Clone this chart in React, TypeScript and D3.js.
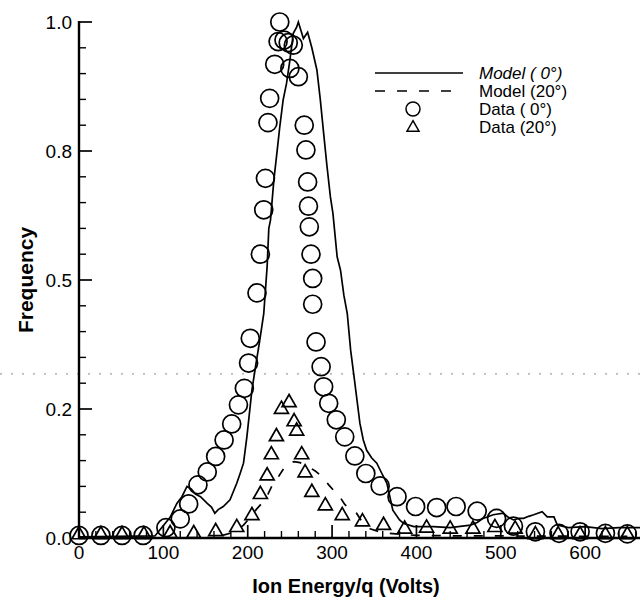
import React from "react";
import * as d3 from "d3";

// Data (0°) circles: [energy, frequency]
const data0X = [0, 26, 51, 76, 103, 120, 130, 141, 152, 162, 172, 181, 189, 196, 201, 203, 211, 215, 219, 221, 224, 226, 232, 236, 238, 243, 248, 254, 250, 260, 267, 269, 271, 272, 273, 275, 277, 277, 281, 287, 290, 296, 305, 315, 327, 340, 357, 377, 399, 424, 447, 472, 495, 515, 541, 569, 594, 624, 650];
const data0Y = [0.005, 0.005, 0.005, 0.005, 0.02, 0.037, 0.066, 0.103, 0.128, 0.158, 0.19, 0.221, 0.258, 0.29, 0.339, 0.387, 0.475, 0.55, 0.636, 0.697, 0.805, 0.852, 0.918, 0.962, 1.0, 0.965, 0.96, 0.955, 0.91, 0.894, 0.8, 0.752, 0.69, 0.643, 0.603, 0.55, 0.503, 0.453, 0.38, 0.332, 0.293, 0.261, 0.229, 0.196, 0.159, 0.125, 0.101, 0.08, 0.061, 0.059, 0.061, 0.052, 0.038, 0.023, 0.012, 0.009, 0.012, 0.009, 0.008];

// Data (20°) triangles
const data20X = [0, 26, 51, 77, 108, 136, 162, 187, 205, 215, 223, 228, 234, 240, 249, 255, 258, 264, 268, 276, 292, 312, 336, 361, 386, 412, 440, 467, 493, 517, 541, 568, 594, 624, 650];
const data20Y = [0.008, 0.008, 0.008, 0.008, 0.01, 0.01, 0.014, 0.022, 0.045, 0.086, 0.122, 0.163, 0.198, 0.251, 0.264, 0.227, 0.209, 0.163, 0.128, 0.09, 0.064, 0.045, 0.033, 0.026, 0.019, 0.021, 0.019, 0.019, 0.022, 0.019, 0.008, 0.008, 0.008, 0.008, 0.008];

// Model (0°) solid line
const model0X = [0, 90, 96, 108, 116, 122, 128, 133, 138, 144, 152, 157, 161, 165, 171, 179, 187, 191, 195, 199, 205, 210, 214, 219, 223, 225, 227, 231, 235, 238, 242, 246, 250, 254, 258, 260, 266, 271, 276, 282, 286, 290, 294, 298, 301, 306, 310, 314, 318, 322, 327, 333, 337, 341, 347, 353, 359, 365, 372, 380, 385, 397, 420, 440, 464, 472, 479, 491, 503, 509, 515, 521, 527, 533, 539, 549, 555, 563, 567, 580, 600, 620, 640, 665];
const model0Y = [0.002, 0.004, 0.016, 0.04, 0.067, 0.08, 0.1, 0.095, 0.085, 0.08, 0.067, 0.06, 0.048, 0.055, 0.061, 0.074, 0.106, 0.125, 0.145, 0.196, 0.287, 0.34, 0.38, 0.435, 0.526, 0.6, 0.616, 0.694, 0.752, 0.797, 0.849, 0.881, 0.926, 0.978, 0.99, 1.0, 0.968, 0.98, 0.95, 0.907, 0.85, 0.784, 0.72, 0.661, 0.629, 0.545, 0.519, 0.47, 0.435, 0.364, 0.3, 0.222, 0.19, 0.17, 0.155, 0.145, 0.125, 0.106, 0.054, 0.035, 0.028, 0.022, 0.022, 0.02, 0.025, 0.03, 0.038, 0.045, 0.048, 0.04, 0.035, 0.038, 0.038, 0.042, 0.045, 0.051, 0.041, 0.041, 0.025, 0.02, 0.022, 0.018, 0.02, 0.02];

// Model (20°) dashed line
const model20X = [170, 185, 195, 203, 210, 217, 224, 230, 235, 240, 245, 250, 255, 262, 270, 280, 290, 296, 303, 308, 315, 322, 329, 337, 345, 360, 400, 450, 500, 650];
const model20Y = [0.005, 0.012, 0.025, 0.04, 0.055, 0.068, 0.085, 0.105, 0.115, 0.128, 0.14, 0.146, 0.148, 0.146, 0.14, 0.13, 0.116, 0.103, 0.09, 0.083, 0.065, 0.055, 0.048, 0.028, 0.018, 0.01, 0.005, 0.004, 0.004, 0.003];

const xTickValues = [0, 100, 200, 300, 400, 500, 600];
const yTickValues = [0, 0.25, 0.5, 0.75, 1.0];
const yTickLabels = ["0.0", "0.2", "0.5", "0.8", "1.0"];

const legendLabels = ["Model ( 0°)", "Model (20°)", "Data ( 0°)", "Data (20°)"];

const FONT = "'Liberation Sans', Arial, Helvetica, sans-serif";

export default function App() {
  const W = 640, H = 599;
  const x = d3.scaleLinear().domain([0, 665]).range([79, 640]);
  const y = d3.scaleLinear().domain([0, 1]).range([538, 22]);

  const line = d3
    .line<[number, number]>()
    .x((d) => x(d[0]))
    .y((d) => y(d[1]));

  const m0 = model0X.map((v, i) => [v, model0Y[i]] as [number, number]);
  const m20 = model20X.map((v, i) => [v, model20Y[i]] as [number, number]);

  const xMinor = d3.range(0, 661, 20).filter((v) => v % 100 !== 0);
  const yMinor = d3.range(0, 1.0001, 0.05).filter((v) => Math.abs(v / 0.25 - Math.round(v / 0.25)) > 1e-6);

  const triPath = (cx: number, cy: number, s: number) => {
    const h = s * 0.87;
    return `M${cx},${cy - h * 0.6}L${cx + s / 2},${cy + h * 0.4}L${cx - s / 2},${cy + h * 0.4}Z`;
  };

  const R = 9;
  const TRI = 14;

  return (
    <svg
      width={W}
      height={H}
      style={{ position: "absolute", left: 0, top: 0, background: "#fff" }}
      fontFamily={FONT}
    >
      <rect x={0} y={0} width={W} height={H} fill="#fff" />
      {/* scan artifact dotted line */}
      <line x1={0} x2={W} y1={y(0.318)} y2={y(0.318)} stroke="#888" strokeWidth={1} strokeDasharray="2,9" />

      {/* model lines */}
      <path d={line(m0) || ""} fill="none" stroke="#000" strokeWidth={1.7} />
      <path d={line(m20) || ""} fill="none" stroke="#000" strokeWidth={1.7} strokeDasharray="9,12" />

      {/* data circles */}
      {data0X.map((v, i) => (
        <circle key={"c" + i} cx={x(v)} cy={y(data0Y[i])} r={R} fill="none" stroke="#000" strokeWidth={1.7} />
      ))}
      {/* data triangles */}
      {data20X.map((v, i) => (
        <path key={"t" + i} d={triPath(x(v), y(data20Y[i]), TRI)} fill="none" stroke="#000" strokeWidth={1.7} />
      ))}

      {/* axes */}
      <line x1={x(0)} x2={W} y1={y(0)} y2={y(0)} stroke="#000" strokeWidth={2.4} />
      <line x1={x(0)} x2={x(0)} y1={y(0)} y2={y(1) - 1} stroke="#000" strokeWidth={2.4} />
      {xTickValues.map((v) => (
        <g key={"xt" + v}>
          <line x1={x(v)} x2={x(v)} y1={y(0)} y2={y(0) - 13} stroke="#000" strokeWidth={1.7} />
          <text x={x(v)} y={y(0) + 21} textAnchor="middle" fontSize={19} fill="#000">
            {v}
          </text>
        </g>
      ))}
      {xMinor.map((v) => (
        <line key={"xm" + v} x1={x(v)} x2={x(v)} y1={y(0)} y2={y(0) - 7} stroke="#000" strokeWidth={1.4} />
      ))}
      {yTickValues.map((v, i) => (
        <g key={"yt" + v}>
          <line x1={x(0)} x2={x(0) + 13} y1={y(v)} y2={y(v)} stroke="#000" strokeWidth={1.7} />
          <text x={x(0) - 7} y={y(v) + 7} textAnchor="end" fontSize={19} fill="#000">
            {yTickLabels[i]}
          </text>
        </g>
      ))}
      {yMinor.map((v) => (
        <line key={"ym" + v} x1={x(0)} x2={x(0) + 7} y1={y(v)} y2={y(v)} stroke="#000" strokeWidth={1.4} />
      ))}

      {/* axis titles */}
      <text x={346} y={593} textAnchor="middle" fontSize={20} fontWeight="bold" fill="#000">
        Ion Energy/q (Volts)
      </text>
      <text
        transform={`translate(33,${y(0.5)}) rotate(-90)`}
        textAnchor="middle"
        fontSize={21}
        fontWeight="bold"
        fill="#000"
      >
        Frequency
      </text>

      {/* legend */}
      <g fontSize={17} fill="#000">
        <line x1={375} x2={463} y1={73} y2={73} stroke="#000" strokeWidth={1.5} />
        <line x1={375} x2={463} y1={91} y2={91} stroke="#000" strokeWidth={1.5} strokeDasharray="10,12" />
        <circle cx={413} cy={109} r={7} fill="none" stroke="#000" strokeWidth={1.5} />
        <path d={triPath(413, 127, 12)} fill="none" stroke="#000" strokeWidth={1.5} />
        {legendLabels.map((t, i) => (
          <text key={t} x={479} y={79 + i * 18} style={{ whiteSpace: "pre" }} fontStyle={i === 0 ? "italic" : "normal"}>
            {t}
          </text>
        ))}
      </g>
    </svg>
  );
}
